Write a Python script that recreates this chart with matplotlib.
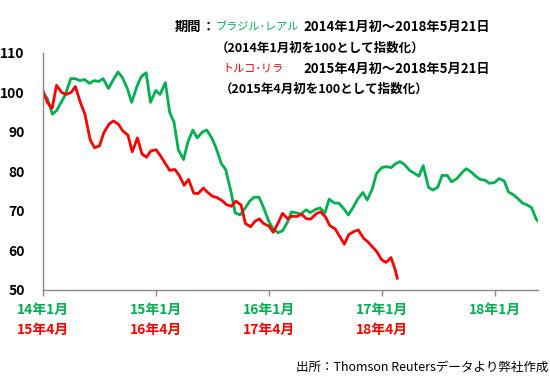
import matplotlib
matplotlib.use("Agg")
import matplotlib.pyplot as plt
import matplotlib.transforms as mtransforms
import numpy as np
import pandas as pd

plt.rcParams['font.family'] = ['Noto Sans CJK JP', 'DejaVu Sans']

GREEN = '#00B050'
RED = '#FF0000'

# ブラジル・レアル (2014年1月初=100), semi-monthly + last day
brl_dates = list(pd.date_range('2014-01-01', '2018-05-15', freq='SMS')) + [pd.Timestamp('2018-05-21')]
brl = [100, 98.5, 94.5, 95.5, 97.5, 99.5, 103.5, 103.5, 103, 103.3,
       102.3, 103, 102.8, 103.5, 101, 103, 105.2, 103.8, 101, 97.5,
       101.5, 104, 105, 97.5, 100.5, 99.5, 102.5, 95, 92.5, 85.5,
       83, 87.5, 90.5, 88.5, 90, 90.5, 88.5, 86, 82, 80.5,
       75, 69.5, 69, 70.5, 72.5, 73.5, 73.5, 71, 67.5, 65.5,
       64.5, 65, 67, 69.8, 69.5, 69.2, 70.3, 69.6, 70.4, 70.8,
       69.5, 73, 72, 72, 70.5, 69, 71, 73, 74.7, 72.8,
       75.5, 79.5, 81, 81.2, 81, 82, 82.5, 81.8, 80.3, 79.6,
       78.8, 81.5, 76, 75.3, 76, 79, 79, 77.4, 78.2, 79.5,
       80.7, 80, 78.8, 78, 77.8, 77, 77.2, 78.2, 77.6, 74.8,
       74.2, 73.3, 72, 71.6, 70.8, 68, 67.5]

# トルコ・リラ (2015年4月初=100)
try_dates = list(pd.date_range('2015-04-01', '2018-05-15', freq='SMS')) + [pd.Timestamp('2018-05-21')]
trl = [100.5, 97.5, 96, 101.8, 100, 99.5, 100, 101.5, 97.3, 94.5,
       88, 86, 86.5, 89.8, 92, 92.8, 92, 90.3, 89.2, 85,
       88.5, 84.5, 83.6, 85.2, 85.5, 84, 82, 80.3, 80.5, 79,
       76.5, 78, 74.5, 74.4, 75.8, 74.7, 73.7, 73.4, 72.6, 71.6,
       71.2, 72.5, 71.5, 66.8, 66, 67.4, 68, 66.8, 66.2, 64.6,
       67, 69.4, 68, 68.7, 68.6, 69.2, 68, 68, 69.3, 69.8,
       68.5, 66.3, 65.5, 63.7, 61.6, 64, 64.8, 65.2, 63.1, 62.2,
       61, 59.8, 57.6, 57, 58.2, 55, 53]

green_ticks = ['14年1月', '15年1月', '16年1月', '17年1月', '18年1月']
red_ticks = ['15年4月', '16年4月', '17年4月', '18年4月']
yticks = [50, 60, 70, 80, 90, 100, 110]

# lira is drawn on the real's time axis (2015年4月 -> 2014年1月)
shift = pd.Timestamp('2015-04-01') - pd.Timestamp('2014-01-01')
try_x = [d - shift for d in try_dates]

fig = plt.figure(figsize=(5.5, 3.89), dpi=100)
ax = fig.add_axes([0.078, 0.2545, 0.9, 0.6093])

ax.plot(brl_dates, brl, color=GREEN, lw=2)
ax.plot(try_x, trl, color=RED, lw=2)

ax.set_xlim(pd.Timestamp('2014-01-01'), pd.Timestamp('2018-05-21'))
ax.set_ylim(50, 110)
ax.set_yticks(yticks)
ax.set_yticklabels([str(v) for v in yticks], fontsize=10, fontweight='bold')
ax.tick_params(axis='y', length=0, pad=13)

tick_pos = [pd.Timestamp(f'{y}-01-01') for y in range(2014, 2019)]
ax.set_xticks(tick_pos)
ax.set_xticklabels([])
ax.tick_params(axis='x', length=4, color='#888888', width=1)

for s in ['top', 'right']:
    ax.spines[s].set_visible(False)
for s in ['left', 'bottom']:
    ax.spines[s].set_color('#888888')
    ax.spines[s].set_linewidth(1)

trans = mtransforms.blended_transform_factory(ax.transData, fig.transFigure)
for p, lab in zip(tick_pos, green_ticks):
    ax.text(p, 1 - 310 / 389, lab, transform=trans, ha='center', va='center',
            color=GREEN, fontsize=10, fontweight='bold')
for p, lab in zip(tick_pos, red_ticks):
    ax.text(p, 1 - 330 / 389, lab, transform=trans, ha='center', va='center',
            color=RED, fontsize=10, fontweight='bold')

def ftext(x, y, s, size=9.5, **kw):
    fig.text(x / 550, 1 - y / 389, s, va='center', fontsize=size, **kw)

ftext(175, 27, '期間', fontweight='bold', color='black')
ftext(202, 27, '：', fontweight='bold', color='black')
ftext(216, 27, 'ブラジル･レアル', size=8, color=GREEN)
ftext(303, 27, '2014年1月初～2018年5月21日', fontweight='bold', color='black')
ftext(216, 48, '（2014年1月初を100として指数化）', size=9, fontweight='bold', color='black')
ftext(222, 69, 'トルコ･リラ', size=8, color=RED)
ftext(303, 69, '2015年4月初～2018年5月21日', fontweight='bold', color='black')
ftext(220, 89, '（2015年4月初を100として指数化）', size=9, fontweight='bold', color='black')

fig.text(548 / 550, 1 - 367 / 389, '出所：Thomson Reutersデータより弊社作成',
         ha='right', va='center', fontsize=9, color='black')

fig.savefig('out.png', dpi=100)
